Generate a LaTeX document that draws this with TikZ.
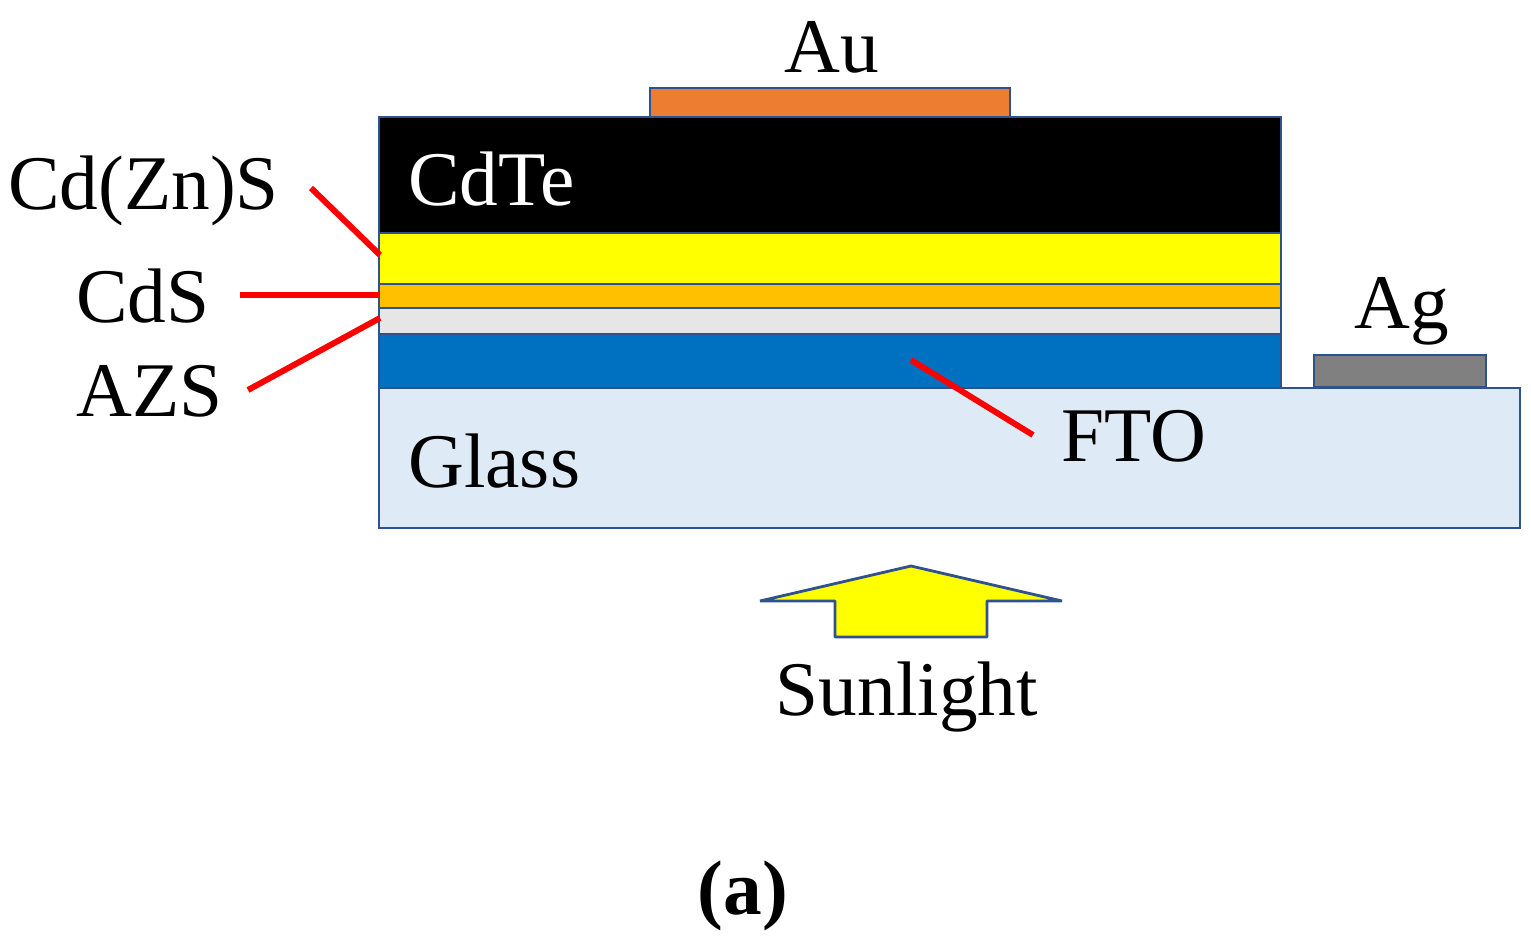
\documentclass[tikz,border=0pt]{standalone}
\usepackage{fontspec}
\setmainfont{Liberation Serif}
\definecolor{edge}{HTML}{2F528F}
\definecolor{auC}{HTML}{ED7D31}
\definecolor{cdsC}{HTML}{FFC000}
\definecolor{azsC}{HTML}{E7E6E6}
\definecolor{ftoC}{HTML}{0070C0}
\definecolor{glassC}{HTML}{DEEBF7}
\definecolor{agC}{HTML}{808080}
\definecolor{ylw}{HTML}{FFFF00}
\begin{document}
\begin{tikzpicture}[x=0.02cm,y=-0.02cm,
  layer/.style={draw=edge,line width=1.6pt},
  lbl/.style={font=\fontsize{44}{50}\selectfont,inner sep=0pt},
  lead/.style={draw=red,line width=3.4pt}]
\useasboundingbox (0,0) rectangle (1531,951);
% layers
\path[layer,fill=glassC] (379,388) rectangle (1520,528);
\path[layer,fill=ftoC] (379,334) rectangle (1281,388);
\path[layer,fill=azsC] (379,308) rectangle (1281,334);
\path[layer,fill=cdsC] (379,284) rectangle (1281,308);
\path[layer,fill=ylw] (379,233) rectangle (1281,284);
\path[layer,fill=black] (379,117) rectangle (1281,233);
\path[layer,fill=auC] (650,88) rectangle (1010,117);
\path[layer,fill=agC] (1314,355) rectangle (1486,387);
% arrow
\path[layer,fill=ylw,line join=bevel] (911,566) -- (1062,601) -- (987,601) -- (987,637) -- (835,637) -- (835,601) -- (760,601) -- cycle;
% labels
\node[lbl] (au) at (832,47) {Au};
\node[lbl,text=white,anchor=west] (cdte) at (408,179) {CdTe};
\node[lbl,anchor=west] (cdzns) at (8,191) {Cd(Zn)S};
\node[lbl,anchor=west] (cds) at (76,296) {CdS};
\node[lbl,anchor=west] (azs) at (76,391) {AZS};
\node[lbl,anchor=west] (glass) at (408,461) {Glass};
\node[lbl,anchor=west] (fto) at (1061,436) {FTO};
\node[lbl] (ag) at (1402,311) {Ag};
\node[lbl] (sun) at (907,697) {Sunlight};
\node[lbl,font=\fontsize{44}{50}\selectfont\bfseries] (a) at (743,896) {(a)};
% leader lines
\coordinate (p1) at (380,255);
\coordinate (p2) at (380,295);
\coordinate (p3) at (380,318);
\coordinate (p4) at (911,360);
\coordinate (q1) at (311,188);
\coordinate (q2) at (240,295);
\coordinate (q3) at (248,390);
\coordinate (q4) at (1033,435);
\draw[lead] (q1) -- (p1);
\draw[lead] (q2) -- (p2);
\draw[lead] (q3) -- (p3);
\draw[lead] (p4) -- (q4);
\end{tikzpicture}
\end{document}
